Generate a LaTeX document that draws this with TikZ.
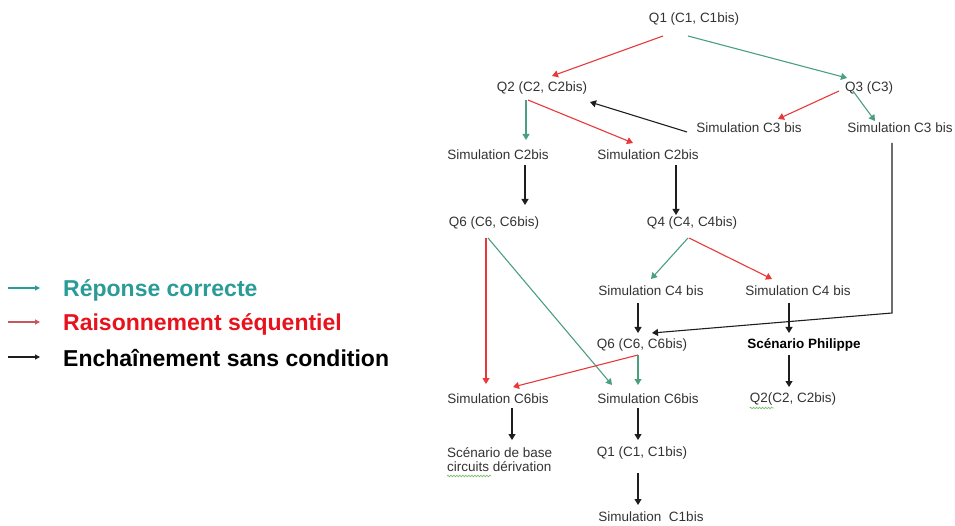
\documentclass[tikz,border=0pt]{standalone}
\usepackage{fontspec}
\setmainfont{Liberation Sans}
\usetikzlibrary{arrows.meta,decorations.pathmorphing}
\definecolor{cgreen}{HTML}{4A9F7E}
\definecolor{cred}{HTML}{E8383A}
\definecolor{cblack}{HTML}{1E1E1E}
\definecolor{ctext}{HTML}{333333}
\definecolor{lteal}{HTML}{2A9C98}
\definecolor{lred}{HTML}{E8121C}
\definecolor{lpink}{HTML}{C85560}
\definecolor{squig}{HTML}{7DBE6A}
\begin{document}
\begin{tikzpicture}[x=1pt,y=-1pt,
  lbl/.style={inner sep=0pt, text=ctext, font=\fontsize{13.5}{14}\selectfont},
  arr/.style={line width=1.1pt, -{Triangle[length=6pt,width=7pt]}},
  okarr/.style={arr, draw=cgreen},
  seqarr/.style={arr, draw=cred},
  uncarr/.style={arr, draw=cblack},
  legtxt/.style={inner sep=0pt, anchor=west, font=\fontsize{23}{25}\selectfont\bfseries},
  legarr/.style={line width=1.1pt, -{Triangle[length=5pt,width=5pt]}},
  wavy/.style={draw=squig, line width=0.7pt, decorate, decoration={snake, segment length=3pt, amplitude=0.8pt}}
]
\useasboundingbox (0,0) rectangle (955,526);

% legend
\coordinate (la1) at (8,288); \coordinate (lb1) at (40,288);
\coordinate (la2) at (8,322); \coordinate (lb2) at (40,322);
\coordinate (la3) at (8,357); \coordinate (lb3) at (40,357);
\draw[legarr, draw=lteal] (la1) -- (lb1);
\draw[legarr, draw=lpink] (la2) -- (lb2);
\draw[legarr, draw=cblack] (la3) -- (lb3);
\node[legtxt, text=lteal] (l1) at (63,290) {Réponse correcte};
\node[legtxt, text=lred] (l2) at (63,324) {Raisonnement séquentiel};
\node[legtxt, text=black] (l3) at (63,358) {Enchaînement sans condition};

% nodes
\node[lbl] (q1) at (694,19) {Q1 (C1, C1bis)};
\node[lbl] (q2) at (542,88) {Q2 (C2, C2bis)};
\node[lbl] (q3) at (869,88) {Q3 (C3)};
\node[lbl] (s3a) at (749,128) {Simulation C3 bis};
\node[lbl] (s3b) at (900,128) {Simulation C3 bis};
\node[lbl] (s2a) at (498,155) {Simulation C2bis};
\node[lbl] (s2b) at (648,155) {Simulation C2bis};
\node[lbl] (q6a) at (494,223) {Q6 (C6, C6bis)};
\node[lbl] (q4) at (692,223) {Q4 (C4, C4bis)};
\node[lbl] (s4a) at (651,291) {Simulation C4 bis};
\node[lbl] (s4b) at (798,291) {Simulation C4 bis};
\node[lbl] (q6b) at (642,345) {Q6 (C6, C6bis)};
\node[lbl, font=\fontsize{13.5}{14}\selectfont\bfseries, text=black] (sp) at (804,345) {Scénario Philippe};
\node[lbl] (s6a) at (498,399) {Simulation C6bis};
\node[lbl] (s6b) at (648,399) {Simulation C6bis};
\node[lbl] (q2b) at (793,399) {Q2(C2, C2bis)};
\node[lbl, anchor=west, align=left] (sb) at (447,460) {Scénario de base\\circuits dérivation};
\node[lbl] (q1b) at (642,453) {Q1 (C1, C1bis)};
\node[lbl] (s1) at (651,517) {Simulation\ \ C1bis};

% spell-check squiggles
\draw[wavy] ([shift={(0,9)}]q2b.west) -- ++(24,0);
\draw[wavy] ([shift={(0,16)}]sb.west) -- ++(44,0);

% connectors
\draw[seqarr] ([shift={(-31,17)}]q1.center) -- ([shift={(10,-12)}]q2.center);
\draw[okarr]  ([shift={(-6,17)}]q1.center) -- ([shift={(-22,-10)}]q3.center);
\draw[seqarr] ([shift={(-30,3)}]q3.center) -- ([shift={(29,-9)}]s3a.center);
\draw[okarr]  ([shift={(-16,3)}]q3.center) -- ([shift={(-25,-7)}]s3b.center);
\draw[uncarr] ([shift={(-62,4)}]s3a.center) -- ([shift={(48,14)}]q2.center);
\draw[okarr]  ([shift={(-16,12)}]q2.center) -- ([shift={(28,-15)}]s2a.center);
\draw[seqarr] ([shift={(-14,12)}]q2.center) -- ([shift={(-15,-12)}]s2b.center);
\draw[uncarr] ([shift={(27,10)}]s2a.center) -- ([shift={(31,-18)}]q6a.center);
\draw[uncarr] ([shift={(28,10)}]s2b.center) -- ([shift={(-16,-8)}]q4.center);
\coordinate (bend) at ([shift={(-8,185)}]s3b.center);
\draw[uncarr] ([shift={(-8,15)}]s3b.center) -- (bend) -- ([shift={(10,-12)}]q6b.center);
\draw[okarr]  ([shift={(-4,15)}]q4.center) -- ([shift={(0,-12)}]s4a.center);
\draw[seqarr] ([shift={(-3,15)}]q4.center) -- ([shift={(-26,-12)}]s4b.center);
\draw[uncarr] ([shift={(-13,12)}]s4a.center) -- ([shift={(-4,-12)}]q6b.center);
\draw[uncarr] ([shift={(-9,12)}]s4b.center) -- ([shift={(-15,-12)}]sp.center);
\draw[seqarr] ([shift={(-8,15)}]q6a.center) -- ([shift={(-12,-15)}]s6a.center);
\draw[okarr]  ([shift={(-6,15)}]q6a.center) -- ([shift={(-36,-14)}]s6b.center);
\draw[seqarr] ([shift={(-4,10)}]q6b.center) -- ([shift={(15,-12)}]s6a.center);
\draw[okarr]  ([shift={(-4,10)}]q6b.center) -- ([shift={(-10,-14)}]s6b.center);
\draw[uncarr] ([shift={(14,9)}]s6a.center) -- ([shift={(65,-20)}]sb.west);
\draw[uncarr] ([shift={(-10,9)}]s6b.center) -- ([shift={(-4,-13)}]q1b.center);
\draw[uncarr] ([shift={(-4,20)}]q1b.center) -- ([shift={(-13,-12)}]s1.center);
\draw[uncarr] ([shift={(-15,10)}]sp.center) -- ([shift={(-4,-12)}]q2b.center);
\end{tikzpicture}
\end{document}
